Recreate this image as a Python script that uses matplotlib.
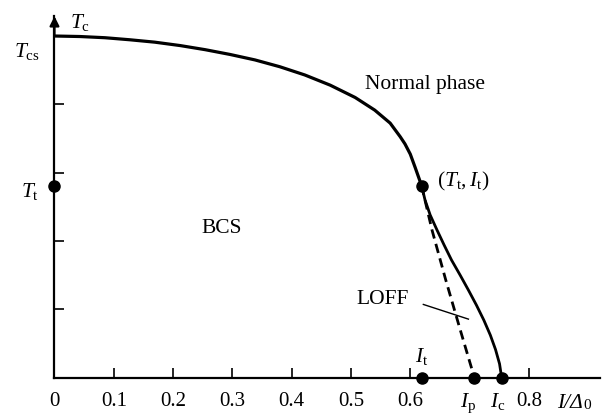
import matplotlib

matplotlib.use("Agg")
import matplotlib.pyplot as plt

# Phase diagram T/T_cs vs I/Delta_0.
I_t, T_t = 0.619, 0.562
I_p, I_c = 0.708, 0.754

# Normal/BCS boundary from T_cs down to the tricritical point
upper_x = [0.0, 0.043, 0.085, 0.127, 0.169, 0.212, 0.254, 0.296, 0.338, 0.380,
           0.422, 0.465, 0.507, 0.540, 0.566, 0.583, 0.591, 0.600, 0.608, 0.619]
upper_y = [1.0, 0.9985, 0.995, 0.989, 0.982, 0.972, 0.960, 0.946, 0.930, 0.910,
           0.886, 0.856, 0.820, 0.783, 0.745, 0.705, 0.684, 0.654, 0.616, 0.562]

# solid branch below (T_t, I_t) ending at I_c
lower_x = [0.619, 0.6248, 0.6335, 0.645, 0.657, 0.6695, 0.684, 0.698, 0.7115,
           0.724, 0.735, 0.7437, 0.7505, 0.754]
lower_y = [0.562, 0.520, 0.476, 0.432, 0.388, 0.344, 0.300, 0.256, 0.212,
           0.168, 0.124, 0.082, 0.040, 0.0]

# dashed LOFF branch ending at I_p
loff_x = [0.619, 0.6366, 0.6594, 0.6838, 0.708]
loff_y = [0.562, 0.432, 0.288, 0.142, 0.0]

leader_x = [0.622, 0.698]
leader_y = [0.214, 0.171]

xticks = [0, 0.1, 0.2, 0.3, 0.4, 0.5, 0.6, 0.8]
xtick_labels = ["0", "0.1", "0.2", "0.3", "0.4", "0.5", "0.6", "0.8"]
yticks = [0.2, 0.4, 0.6, 0.8]

plt.rcParams["font.family"] = ["Liberation Serif", "DejaVu Serif"]
plt.rcParams["mathtext.fontset"] = "custom"
plt.rcParams["mathtext.rm"] = "Liberation Serif"
plt.rcParams["mathtext.it"] = "Liberation Serif:italic"
plt.rcParams["mathtext.bf"] = "Liberation Serif:bold"

fig = plt.figure(figsize=(6.02, 4.14), dpi=100)
ax = fig.add_axes([0.0905, 0.0857, 0.9063, 0.8744])
ax.set_xlim(0, 0.92)
ax.set_ylim(0, 1.06)

for side in ("top", "right"):
    ax.spines[side].set_visible(False)
for side in ("left", "bottom"):
    ax.spines[side].set_linewidth(1.6)

ax.set_xticks(xticks, xtick_labels, fontsize=15)
ax.set_yticks(yticks, [])
ax.tick_params(axis="both", direction="in", length=7.5, width=1.2, pad=10)

# arrow head on the T axis
ax.annotate("", xy=(0, 1.058), xytext=(0, 1.0),
            arrowprops=dict(arrowstyle="-|>", color="black", lw=1.6, mutation_scale=14,
                            shrinkA=0, shrinkB=0),
            annotation_clip=False)

ax.plot(upper_x, upper_y, color="black", lw=2.3, solid_joinstyle="round")
ax.plot(lower_x, lower_y, color="black", lw=2.0, solid_joinstyle="round")
ax.plot(loff_x, loff_y, color="black", lw=2.0, dashes=(3.4, 2.0))
ax.plot(leader_x, leader_y, color="black", lw=1.0)

dots_x = [0, I_t, I_t, I_p, I_c]
dots_y = [T_t, T_t, 0, 0, 0]
ax.plot(dots_x, dots_y, "o", color="black", ms=8, clip_on=False, zorder=5)

fs = 15.5
ax.text(0.026, 1.026, r"$T_{\mathrm{c}}$", fontsize=fs, ha="left", va="baseline")
ax.text(-0.024, 0.942, r"$T_{\mathrm{cs}}$", fontsize=fs, ha="right", va="baseline")
ax.text(-0.026, 0.532, r"$T_{\mathrm{t}}$", fontsize=fs, ha="right", va="baseline")
ax.text(0.2825, 0.425, "BCS", fontsize=fs, ha="center", va="baseline")
ax.text(0.5236, 0.847, "Normal phase", fontsize=fs, ha="left", va="baseline")
ax.text(0.645, 0.562, r"$(T_{\mathrm{t}}, I_{\mathrm{t}})$", fontsize=fs, ha="left", va="baseline")
ax.text(0.5096, 0.218, "LOFF", fontsize=fs, ha="left", va="baseline")
ax.text(0.608, 0.049, r"$I_{\mathrm{t}}$", fontsize=fs, ha="left", va="baseline")
ax.text(0.6838, -0.082, r"$I_{\mathrm{p}}$", fontsize=fs, ha="left", va="baseline")
ax.text(0.7344, -0.082, r"$I_{\mathrm{c}}$", fontsize=fs, ha="left", va="baseline")

# italic capital Delta: mathtext forces Greek capitals upright, so use plain italic text
xlab = ax.text(0.847, -0.085, "I/\u0394", fontsize=fs, style="italic", ha="left", va="baseline")
ax.annotate("0", xy=(1, 0), xycoords=xlab, xytext=(0.5, 0.5), textcoords="offset points",
            fontsize=11, ha="left", va="bottom")

fig.savefig("out.png", dpi=100)
